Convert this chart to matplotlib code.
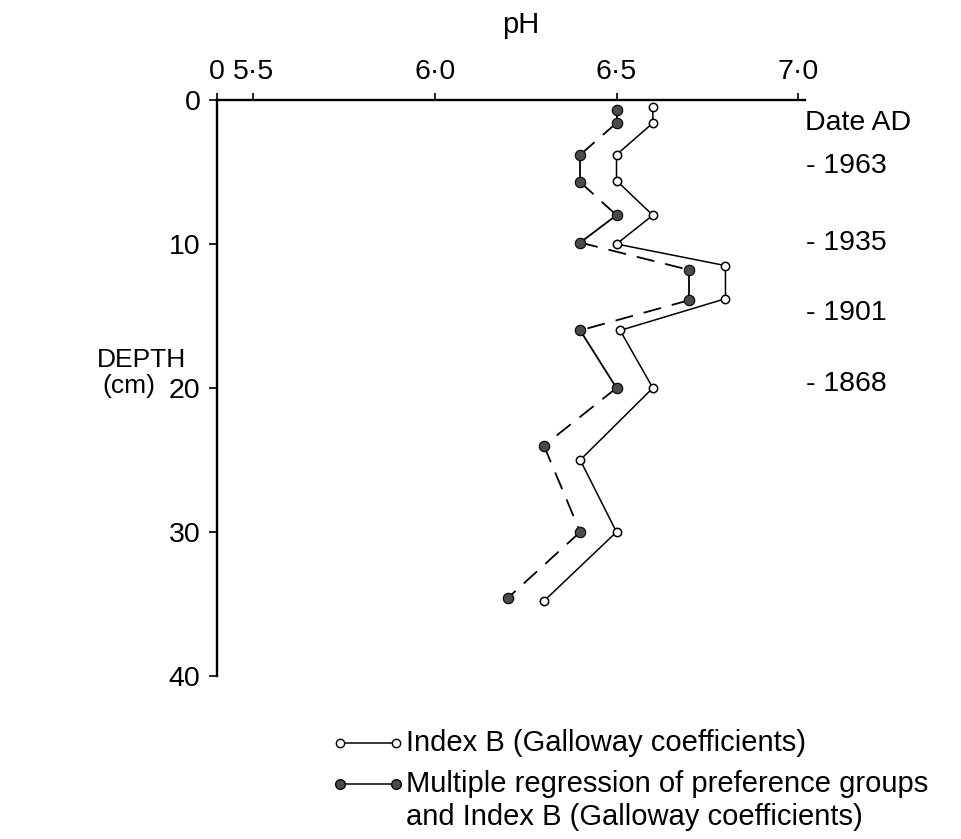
import matplotlib
matplotlib.use("Agg")
import matplotlib.pyplot as plt
from matplotlib.lines import Line2D
from matplotlib import font_manager

# =============================================================================
# DATA
# =============================================================================
# Index B (Galloway coefficients) - open circles, solid line
depth_index_b = [0.5, 1.6, 3.8, 5.6, 8.0, 10.0, 11.5, 13.8, 16.0, 20.0, 25.0, 30.0, 34.8]
ph_index_b = [6.6, 6.6, 6.5, 6.5, 6.6, 6.5, 6.8, 6.8, 6.51, 6.6, 6.4, 6.5, 6.3]

# Multiple regression of preference groups and Index B - filled circles
depth_multi = [0.7, 1.6, 3.8, 5.7, 8.0, 9.9, 11.8, 13.9, 16.0, 20.0, 24.0, 30.0, 34.6]
ph_multi = [6.5, 6.5, 6.4, 6.4, 6.5, 6.4, 6.7, 6.7, 6.4, 6.5, 6.3, 6.4, 6.2]
# which segments between consecutive points are dashed
multi_dashed = [False, True, False, True, False, True, False, True, False, True, True, True]

# Dates on the right
date_labels = ["1963", "1935", "1901", "1868"]
date_depths = [4.6, 9.9, 14.8, 19.7]

x_ticks = [5.4, 5.5, 6.0, 6.5, 7.0]
x_ticklabels = ["0", "5\u00b75", "6\u00b70", "6\u00b75", "7\u00b70"]
y_ticks = [0, 10, 20, 30, 40]

legend_texts = ["Index B (Galloway coefficients)",
                "Multiple regression of preference groups",
                "and Index B (Galloway coefficients)"]

# =============================================================================
# STYLE
# =============================================================================
names = {f.name for f in font_manager.fontManager.ttflist}
fam = "Liberation Sans" if "Liberation Sans" in names else "DejaVu Sans"
plt.rcParams["font.family"] = [fam, "DejaVu Sans"]
plt.rcParams["lines.scale_dashes"] = False

W, H = 961, 839
fig = plt.figure(figsize=(W / 100, H / 100), dpi=100)

# axes box in pixels: left spine x=217, right end x=805, top y=100, bottom y=676
ax = fig.add_axes([217 / W, 1 - 676 / H, (805 - 217) / W, (676 - 100) / H])
ax.set_xlim(5.40, 7.019)
ax.set_ylim(40, 0)

for s in ["right", "bottom"]:
    ax.spines[s].set_visible(False)
for s in ["top", "left"]:
    ax.spines[s].set_linewidth(1.7)

ax.xaxis.tick_top()
ax.set_xticks(x_ticks)
ax.set_xticklabels(x_ticklabels)
ax.set_yticks(y_ticks)
ax.tick_params(axis="x", direction="out", length=5, width=1.2, pad=6, labelsize=20.5)
ax.tick_params(axis="y", direction="out", length=6, width=1.2, pad=6, labelsize=20.5)
ax.patch.set_visible(False)

# =============================================================================
# SERIES
# =============================================================================
ax.plot(ph_index_b, depth_index_b, color="black", lw=1.1, marker="o", ms=6,
        mfc="white", mec="black", mew=1.1, clip_on=False, zorder=3)

for i, dashed in enumerate(multi_dashed):
    ls = (0, (13, 8)) if dashed else "-"
    ax.plot(ph_multi[i:i + 2], depth_multi[i:i + 2], color="black", lw=1.3,
            linestyle=ls, clip_on=False, zorder=2)
ax.plot(ph_multi, depth_multi, linestyle="none", marker="o", ms=7.5,
        mfc="#4a4a4a", mec="black", mew=0.8, clip_on=False, zorder=4)

# dates
ax.text(7.019, 1.6, "Date AD", fontsize=20.5, ha="left", va="center")
for lab, d in zip(date_labels, date_depths):
    ax.text(7.023, d, "- " + lab, fontsize=20.5, ha="left", va="center")

# =============================================================================
# LABELS
# =============================================================================
fig.text(521 / W, 1 - 25 / H, "pH", fontsize=21, ha="center", va="center")
fig.text(97 / W, 1 - 360 / H, "DEPTH", fontsize=19, ha="left", va="center")
fig.text(102 / W, 1 - 386 / H, "(cm)", fontsize=19, ha="left", va="center")

# legend drawn by hand
leg_y = [743, 784, 817]
for k, (fc, ms) in enumerate([("white", 6), ("#4a4a4a", 7)]):
    yy = 1 - leg_y[k] / H
    fig.add_artist(Line2D([340 / W, 396 / W], [yy, yy], transform=fig.transFigure,
                          color="black", lw=1.1, marker="o", ms=ms, mfc=fc,
                          mec="black", mew=1.0))
for k, t in enumerate(legend_texts):
    fig.text(406 / W, 1 - leg_y[k] / H, t, fontsize=21, ha="left", va="center")

fig.savefig("out.png", dpi=100)
